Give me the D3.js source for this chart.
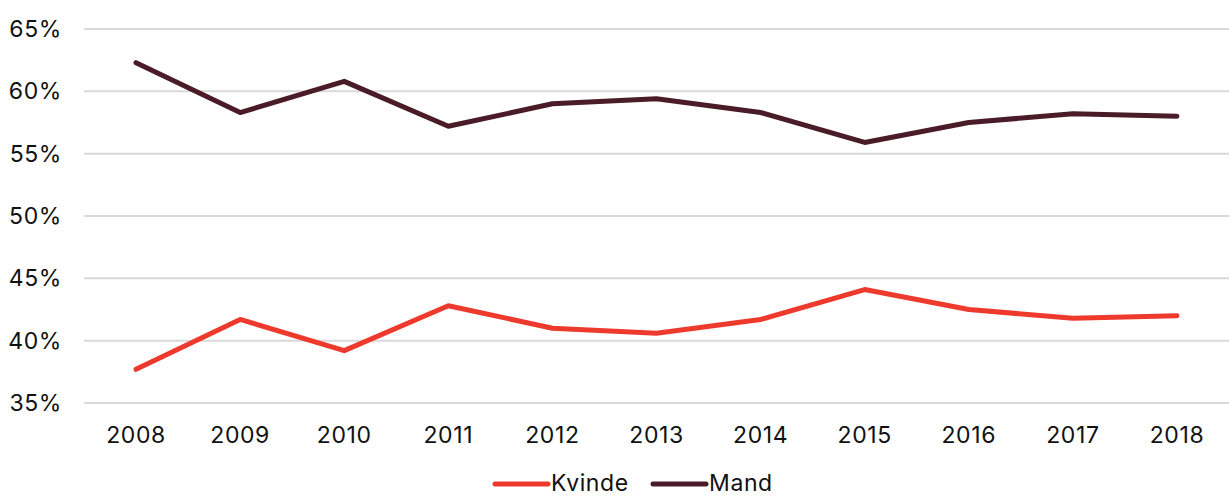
<!DOCTYPE html>
<html><head><meta charset="utf-8">
<script src="https://cdn.jsdelivr.net/npm/d3@7"></script>
<style>body{margin:0;background:#fff}svg{display:block}text{font-family:Inter,"Liberation Sans",Arial,sans-serif;fill:#111;letter-spacing:0.6px}</style>
</head><body><svg id="c" width="1229" height="498"></svg>
<script>
const years = ["2008","2009","2010","2011","2012","2013","2014","2015","2016","2017","2018"];
const kvinde = [37.7,41.7,39.2,42.8,41.0,40.6,41.7,44.1,42.5,41.8,42.0];
const mand = [62.3,58.3,60.8,57.2,59.0,59.4,58.3,55.9,57.5,58.2,58.0];
const yTicks = [35,40,45,50,55,60,65];
const seriesNames = ["Kvinde","Mand"];
const colors = ["#ee3a2d","#4a1b29"];

const svg = d3.select("#c");
const x = d3.scaleBand().domain(years).range([84,1229]);
const y = d3.scaleLinear().domain([35,65]).range([403,29]);

svg.append("g").selectAll("line").data(yTicks).join("line")
  .attr("x1",84).attr("x2",1229).attr("y1",d=>y(d)).attr("y2",d=>y(d))
  .attr("stroke","#d9d9d9").attr("stroke-width",2);

svg.append("g").selectAll("text").data(yTicks).join("text")
  .attr("x",62).attr("y",d=>y(d)).attr("dy","0.35em").attr("text-anchor","end")
  .attr("font-size",23).text(d=>d+"%");

svg.append("g").selectAll("text").data(years).join("text")
  .attr("x",d=>x(d)+x.bandwidth()/2).attr("y",443).attr("text-anchor","middle")
  .attr("font-size",23).text(d=>d);

const line = d3.line().x((d,i)=>x(years[i])+x.bandwidth()/2).y(d=>y(d));
[kvinde,mand].forEach((s,i)=>{
  svg.append("path").datum(s).attr("d",line).attr("fill","none")
    .attr("stroke",colors[i]).attr("stroke-width",5).attr("stroke-linecap","round").attr("stroke-linejoin","round");
});

const lx = [495,653];
seriesNames.forEach((n,i)=>{
  svg.append("line").attr("x1",lx[i]).attr("x2",lx[i]+53).attr("y1",484).attr("y2",484)
    .attr("stroke",colors[i]).attr("stroke-width",5).attr("stroke-linecap","round");
  svg.append("text").attr("x",lx[i]+56).attr("y",491).attr("font-size",23).text(n);
});
</script></body></html>
